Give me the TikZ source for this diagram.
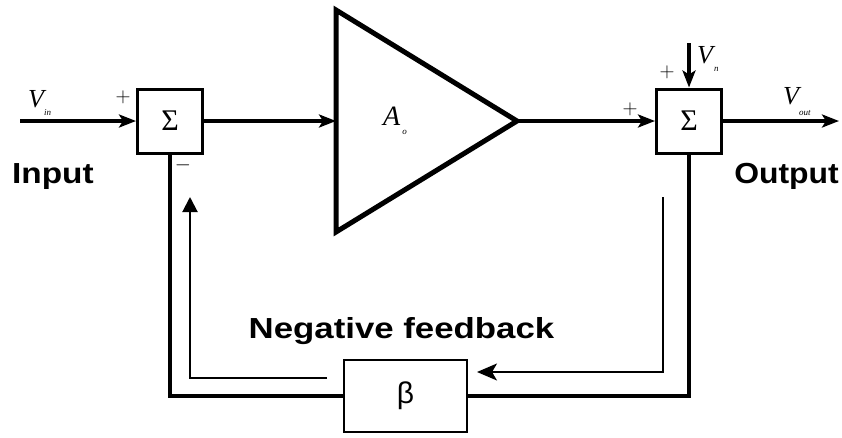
\documentclass[tikz,border=0pt]{standalone}
\usepackage{fontspec}
\newfontfamily\arialfont{Liberation Sans}
\newfontfamily\timesfont{Liberation Serif}
\usetikzlibrary{arrows.meta}
\newcommand{\mainV}{{\timesfont\itshape\fontsize{26}{26}\selectfont V}}
\newcommand{\subtxt}[2]{\raisebox{#1}{\timesfont\itshape\fontsize{9}{9}\selectfont #2}}
\begin{document}
\begin{tikzpicture}[x=1pt,y=-1pt,
  sumbox/.style={draw,line width=3pt,minimum width=65pt,minimum height=64pt,inner sep=0pt,font=\timesfont\fontsize{30}{30}\selectfont},
  betabox/.style={draw,line width=2.5pt,minimum width=123pt,minimum height=72pt,inner sep=0pt,font=\arialfont\fontsize{30}{30}\selectfont},
  conn/.style={line width=3.5pt,-{Stealth[length=17pt,width=13pt,inset=4pt]}},
  fbline/.style={line width=4pt,line cap=rect},
  thinarrow/.style={line width=2pt},
  biglabel/.style={font=\arialfont\bfseries\fontsize{29}{29}\selectfont,inner sep=0pt},
  sign/.style={font=\fontsize{22}{22}\selectfont,inner sep=0pt},
  varlabel/.style={anchor=base west,inner sep=0pt}
]
\useasboundingbox (0,0) rectangle (842,437);

% blocks
\node[sumbox] (sumL) at (170,121) {Σ};
\node[sumbox] (sumR) at (689,121) {Σ};
\node[betabox] (beta) at (405.5,396) {β};
\draw[line width=5pt,line join=miter] (336,10) -- (517,121) -- (336,232) -- cycle;
\coordinate (ampin) at (336,121);
\coordinate (ampout) at (517,121);

% free ends
\coordinate (in) at (20,121);
\coordinate (out) at (839,121);
\coordinate (vn) at (689,43);
\coordinate (r1) at (663,197);
\coordinate (r2) at (477,372);
\coordinate (l1) at (327,378);
\coordinate (l2) at (190,197);

% connectors
\draw[conn] (in) -- (sumL);
\draw[conn] (sumL) -- (ampin);
\draw[conn] (ampout) -- (sumR);
\draw[conn] (sumR) -- (out);
\draw[conn] (vn) -- (sumR);
\draw[fbline] (sumR.south) |- (beta.east);
\draw[fbline] (sumL.south) |- (beta.west);
\draw[thinarrow,-{Stealth[length=20pt,width=17pt,inset=5pt]}] (r1) |- (r2);
\draw[thinarrow,-{Triangle[length=15pt,width=15pt]}] (l1) -| (l2);

% labels
\node[varlabel] (vinlab) at (28,107) {\mainV\kern0pt\subtxt{-8pt}{in}};
\node[varlabel] (voutlab) at (783,104) {\mainV\kern0pt\subtxt{-11pt}{out}};
\node[varlabel] (vnlab) at (697,63) {\mainV\kern1pt\subtxt{-8pt}{n}};
\node[varlabel] (amplab) at (383,125) {{\timesfont\itshape\fontsize{28}{28}\selectfont A}\kern2pt\subtxt{-9pt}{o}};

\node[sign] (pL) at (123,97) {$+$};
\node[sign] (mL) at (183,165) {$-$};
\node[sign] (pR) at (630,109) {$+$};
\node[sign] (pT) at (667,72) {$+$};

\node[biglabel,anchor=base west] (inputlab) at (12,183) {\scalebox{1.15}[1]{Input}};
\node[biglabel,anchor=base east] (outputlab) at (839,183) {\scalebox{1.1}[1]{Output}};
\node[biglabel,anchor=base] (neglab) at (401.5,338) {\scalebox{1.2}[1]{Negative feedback}};
\end{tikzpicture}
\end{document}
